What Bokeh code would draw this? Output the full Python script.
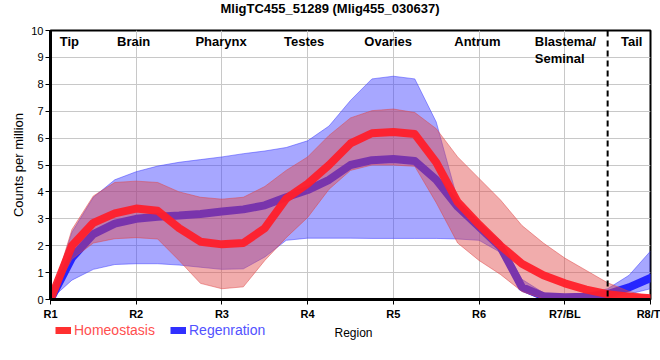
from bokeh.plotting import figure
from bokeh.layouts import column
from bokeh.models import Range1d, FixedTicker, Span, Label, Legend, LegendItem
from bokeh.core.properties import value
from bokeh.embed import file_html
from bokeh.resources import INLINE

# ---------------- data ----------------
title_text = "MligTC455_51289 (Mlig455_030637)"
x_title = "Region"
y_title = "Counts per million"
tick_labels = ["R1", "R2", "R3", "R4", "R5", "R6", "R7/BL", "R8/T"]
tick_pos = [0, 1, 2, 3, 4, 5, 6, 7]

region_names = ["Tip", "Brain", "Pharynx", "Testes", "Ovaries", "Antrum", "Tail"]
region_x = [0.22, 0.97, 1.99, 2.96, 3.94, 4.98, 6.78]
blastema_name = "Blastema/\nSeminal"
blastema_x = 5.65
tail_boundary = 6.5

series_names = ["Homeostasis", "Regenration"]

pos = [0, 0.25, 0.5, 0.75, 1, 1.25, 1.5, 1.75, 2, 2.25, 2.5, 2.75, 3, 3.25, 3.5,
       3.75, 4, 4.25, 4.5, 4.75, 5, 5.25, 5.5, 5.75, 6, 6.25, 6.5, 6.75, 7]

homeo_mean = [0, 2.0, 2.85, 3.2, 3.38, 3.3, 2.65, 2.15, 2.05, 2.1, 2.65, 3.75, 4.3, 5.0, 5.8,
              6.18, 6.23, 6.15, 5.1, 3.62, 2.78, 2.0, 1.33, 0.9, 0.6, 0.37, 0.2, 0.1, 0.05]
homeo_upper = [0, 2.6, 3.85, 4.35, 4.4, 4.35, 4.0, 3.8, 3.73, 3.8, 4.2, 4.8, 5.3, 6.1, 6.75,
               7.02, 7.08, 6.95, 6.35, 5.3, 4.5, 3.7, 2.75, 2.1, 1.54, 1.08, 0.62, 0.3, 0.1]
homeo_lower = [0, 1.5, 2.1, 2.26, 2.3, 2.25, 1.45, 0.6, 0.4, 0.47, 1.45, 2.3, 3.05, 4.1, 4.8,
               5.0, 5.0, 4.95, 3.6, 2.1, 1.45, 0.93, 0.3, 0.02, 0, 0, 0, 0, 0]

regen_mean = [0, 1.55, 2.43, 2.82, 3.0, 3.08, 3.12, 3.18, 3.27, 3.35, 3.5, 3.8, 4.07, 4.45, 5.0,
              5.18, 5.22, 5.15, 4.45, 3.45, 2.7, 1.95, 0.46, 0.12, 0.08, 0.1, 0.2, 0.45, 0.8]
regen_upper = [0, 2.5, 3.8, 4.45, 4.75, 4.96, 5.1, 5.2, 5.3, 5.42, 5.52, 5.65, 5.9, 6.45, 7.4,
               8.2, 8.3, 8.2, 6.6, 3.7, 2.85, 2.2, 0.75, 0.25, 0.15, 0.2, 0.4, 0.9, 1.8]
regen_lower = [0, 0.72, 1.12, 1.3, 1.33, 1.33, 1.28, 1.2, 1.12, 1.14, 1.58, 2.2, 2.28, 2.28, 2.28,
               2.27, 2.27, 2.27, 2.27, 2.25, 2.2, 1.75, 0.3, 0, 0, 0, 0.05, 0.2, 0.4]

# ---------------- styling ----------------
FONT_NAME = "Liberation Sans"
FONT = value(FONT_NAME)
RED_LINE = "#ff1f2a"
RED_FILL = "#e14646"
BLUE_LINE = "#2626ff"
BLUE_FILL = "#3c3cff"
W = 660


def strip(height):
    f = figure(width=W, height=height, output_backend="svg", toolbar_location=None,
               x_range=Range1d(0, 1), y_range=Range1d(0, 1),
               x_axis_type=None, y_axis_type=None,
               min_border_left=0, min_border_right=0, min_border_top=0, min_border_bottom=0)
    f.grid.visible = False
    f.outline_line_color = None
    f.background_fill_color = "white"
    f.border_fill_color = "white"
    return f


# ---------------- header strip: title ----------------
head = strip(22)
head.add_layout(Label(x=279.5, y=14, x_units="screen", y_units="screen", text=title_text,
                      text_align="center", text_baseline="alphabetic", text_font=FONT_NAME,
                      text_font_style="bold", text_font_size="13px", text_color="black"))

# ---------------- main plot ----------------
p = figure(width=W, height=300, output_backend="svg", toolbar_location=None,
           x_range=Range1d(0, 7), y_range=Range1d(0, 10),
           min_border_left=50, min_border_right=10, min_border_top=8, min_border_bottom=22)

p.background_fill_color = "white"
p.border_fill_color = "white"
p.outline_line_color = "black"
p.outline_line_width = 2

# grid
p.xgrid.ticker = FixedTicker(ticks=tick_pos)
p.ygrid.ticker = FixedTicker(ticks=list(range(0, 11)))
for g in (p.xgrid, p.ygrid):
    g.grid_line_color = "#c8c8c8"
    g.grid_line_width = 1

# axes
p.xaxis.ticker = FixedTicker(ticks=tick_pos)
p.xaxis.major_label_overrides = {t: l for t, l in zip(tick_pos, tick_labels)}
p.yaxis.ticker = FixedTicker(ticks=list(range(0, 11)))
for ax in (p.xaxis, p.yaxis):
    ax.axis_line_color = "black"
    ax.axis_line_width = 3
    ax.major_tick_line_color = "black"
    ax.major_tick_line_width = 1
    ax.major_tick_out = 5
    ax.major_tick_in = 0
    ax.minor_tick_line_color = None
    ax.major_label_text_font = FONT_NAME
    ax.major_label_text_color = "black"
    ax.axis_label_text_font = FONT_NAME
    ax.axis_label_text_font_style = "normal"
    ax.axis_label_text_color = "black"
p.xaxis.major_label_text_font_size = "11px"
p.xaxis.major_label_text_font_style = "bold"
p.xaxis.major_label_standoff = 3
p.yaxis.major_label_text_font_size = "11px"
p.yaxis.major_label_standoff = 2
p.yaxis.axis_label = y_title
p.yaxis.axis_label_text_font_size = "13px"
p.yaxis.axis_label_standoff = 2

# bands and lines
p.varea(x=pos, y1=regen_lower, y2=regen_upper, fill_color=BLUE_FILL, fill_alpha=0.45)
p.line(pos, regen_upper, line_color=BLUE_FILL, line_alpha=0.5, line_width=1)
p.line(pos, regen_lower, line_color=BLUE_FILL, line_alpha=0.5, line_width=1)
p.line(pos, regen_mean, line_color=BLUE_LINE, line_width=8, line_join="round", line_cap="round")

p.varea(x=pos, y1=homeo_lower, y2=homeo_upper, fill_color=RED_FILL, fill_alpha=0.45)
p.line(pos, homeo_upper, line_color=RED_FILL, line_alpha=0.5, line_width=1)
p.line(pos, homeo_lower, line_color=RED_FILL, line_alpha=0.5, line_width=1)
p.line(pos, homeo_mean, line_color=RED_LINE, line_alpha=0.95, line_width=8,
       line_join="round", line_cap="round")

# tail boundary
p.add_layout(Span(location=tail_boundary, dimension="height", line_color="black",
                  line_width=2, line_dash="6 4"))

# region labels
p.text(x=region_x, y=[9.87] * len(region_x), text=region_names, text_align="center",
       text_baseline="top", text_font=FONT, text_font_style="bold",
       text_font_size="13px", text_color="black")
p.text(x=[blastema_x], y=[9.87], text=[blastema_name], text_align="left",
       text_baseline="top", text_font=FONT, text_font_style="bold",
       text_font_size="13px", text_color="black", text_line_height=1.15)

# ---------------- footer strip: legend + x-axis title ----------------
foot = strip(38)
nan = float("nan")
dummy_red = foot.line([nan, nan], [nan, nan], line_color="#ff3030", line_width=7)
dummy_blue = foot.line([nan, nan], [nan, nan], line_color="#3030ff", line_width=7)
for rend, label, col, loc in ((dummy_red, series_names[0], "#ff4f4f", (5, 22)),
                              (dummy_blue, series_names[1], "#5252ff", (120, 22))):
    leg = Legend(items=[LegendItem(label=label, renderers=[rend])], location=loc,
                 orientation="horizontal", background_fill_alpha=0, border_line_alpha=0,
                 padding=0, margin=0, spacing=0, label_standoff=3, glyph_width=16,
                 glyph_height=8, label_height=16, label_text_font=FONT_NAME,
                 label_text_font_size="14px", label_text_color=col,
                 label_text_baseline="middle")
    foot.add_layout(leg)

foot.add_layout(Label(x=303, y=28, x_units="screen", y_units="screen", text=x_title,
                      text_align="center", text_baseline="middle", text_font=FONT_NAME,
                      text_font_size="12px", text_color="black"))

layout = column(head, p, foot, spacing=0)
open("out.html", "w").write(file_html(layout, INLINE))
